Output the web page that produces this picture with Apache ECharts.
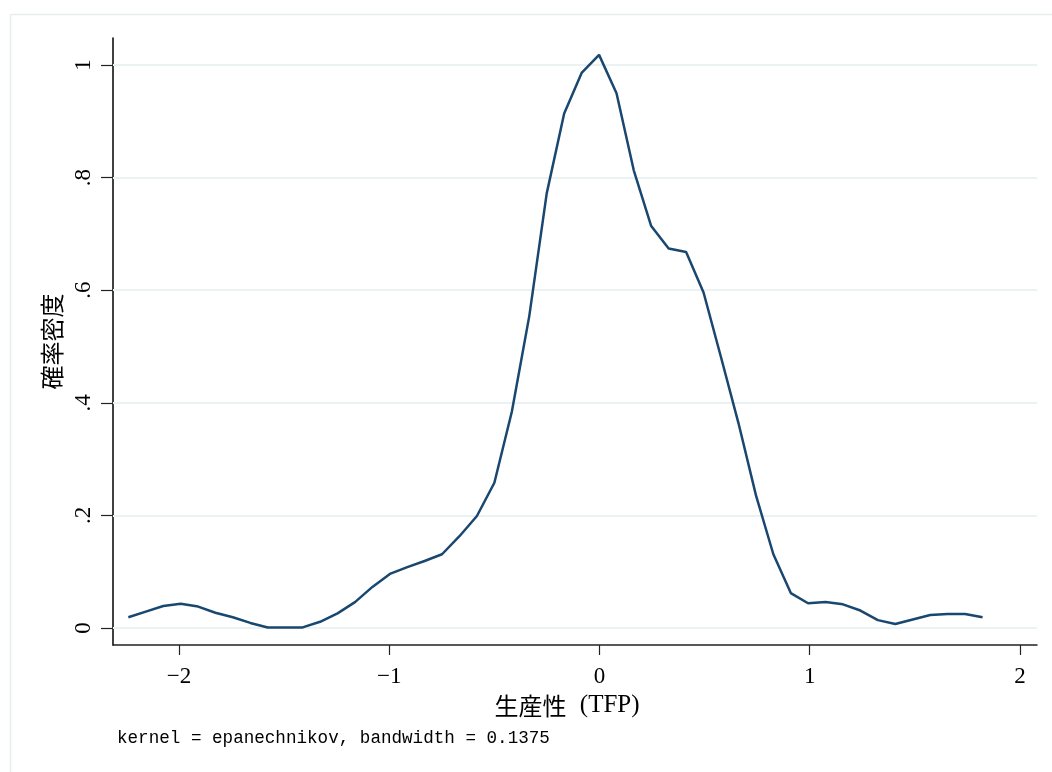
<!DOCTYPE html>
<html>
<head>
<meta charset="utf-8">
<script src="https://cdn.jsdelivr.net/npm/echarts@6/dist/echarts.min.js"></script>
<style>html,body{margin:0;padding:0;background:#fff;}#c{width:1052px;height:772px;}</style>
</head>
<body>
<div id="c"></div>
<script>
const xValues = [-2.241,-2.158,-2.075,-1.992,-1.909,-1.827,-1.744,-1.661,-1.578,-1.495,
  -1.412,-1.329,-1.246,-1.163,-1.080,-0.997,-0.914,-0.832,-0.749,-0.666,
  -0.583,-0.500,-0.417,-0.334,-0.251,-0.168,-0.085,-0.002,0.081,0.163,
  0.246,0.329,0.412,0.495,0.578,0.661,0.744,0.827,0.910,0.992,
  1.075,1.158,1.241,1.324,1.407,1.490,1.573,1.656,1.739,1.822];
const density = [0.019,0.029,0.039,0.043,0.038,0.027,0.019,0.009,0.001,0.001,
  0.001,0.011,0.026,0.046,0.073,0.096,0.108,0.119,0.131,0.163,
  0.199,0.258,0.384,0.554,0.772,0.914,0.986,1.018,0.950,0.813,
  0.714,0.674,0.668,0.596,0.481,0.364,0.236,0.131,0.062,0.044,
  0.046,0.042,0.031,0.014,0.007,0.015,0.023,0.025,0.025,0.019];
const xTicks = [-2,-1,0,1,2];
const yTicks = [0,0.2,0.4,0.6,0.8,1];
const xTitleCJK = '生産性';
const xTitleLatin = '(TFP)';
const yTitle = '確率密度';
const note = 'kernel = epanechnikov, bandwidth = 0.1375';

const chart = echarts.init(document.getElementById('c'));
const serif = '"Liberation Serif", "DejaVu Serif", serif';
const cjk = '"Noto Sans CJK JP", sans-serif';
chart.setOption({
  animation: false,
  backgroundColor: '#ffffff',
  grid: {left: 113, top: 38, right: 15, bottom: 127, containLabel: false},
  graphic: [
    {type: 'rect', left: 8, top: 12, shape: {width: 1070, height: 790},
     style: {fill: 'none', stroke: '#e8eef0', lineWidth: 1.5}, silent: true, z: -10},
    {type: 'text', left: 117, top: 729,
     style: {text: note, font: '17.6px "Liberation Mono", monospace', fill: '#000'}}
  ],
  xAxis: {
    type: 'value', min: -2.314, max: 2.081,
    axisLine: {onZero: false, lineStyle: {color: '#222', width: 1.5}},
    axisTick: {customValues: xTicks, length: 10, lineStyle: {color: '#222', width: 1.2}},
    axisLabel: {customValues: xTicks, margin: 20, fontSize: 23, fontFamily: serif, color: '#000',
      formatter: v => (v < 0 ? '\u2212' + Math.abs(v) : String(v))},
    splitLine: {show: false},
    name: '{c|' + xTitleCJK + '} {l|' + xTitleLatin + '}', nameLocation: 'middle', nameGap: 47,
    nameTextStyle: {
      padding: [0, 16, 0, 0],
      rich: {
        c: {fontSize: 24, fontFamily: cjk, color: '#000'},
        l: {fontSize: 25, fontFamily: serif, color: '#000', padding: [0, 0, 0, 10]}
      }
    }
  },
  yAxis: {
    type: 'value', min: -0.0302, max: 1.048,
    axisLine: {show: true, onZero: false, lineStyle: {color: '#000', width: 1.5}},
    axisTick: {show: true, customValues: yTicks, length: 12, lineStyle: {color: '#222', width: 1.2}},
    axisLabel: {customValues: yTicks, rotate: 90, margin: 18, fontSize: 23, fontFamily: serif, color: '#000',
      formatter: v => (v === 0 ? '0' : v === 1 ? '1' : String(+v.toFixed(1)).replace('0.', '.'))},
    splitLine: {show: false},
    name: yTitle, nameLocation: 'middle', nameGap: 46, nameRotate: 90,
    nameTextStyle: {fontSize: 24, fontFamily: cjk, color: '#000'}
  },
  series: [{
    type: 'line',
    data: xValues.map((x, i) => [x, density[i]]),
    showSymbol: false,
    lineStyle: {color: '#1a476f', width: 2.5},
    z: 5,
    markLine: {
      silent: true, symbol: 'none', label: {show: false},
      lineStyle: {color: '#eaf2f3', width: 2, type: 'solid'},
      data: yTicks.map(v => ({yAxis: v})),
      z: 1
    }
  }]
});
</script>
</body>
</html>
